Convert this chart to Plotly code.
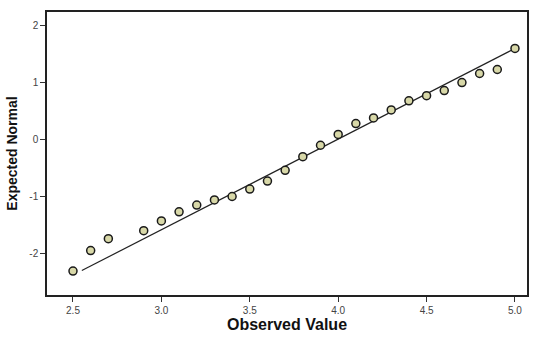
import plotly.graph_objects as go

observed = [2.5, 2.6, 2.7, 2.9, 3.0, 3.1, 3.2, 3.3, 3.4, 3.5, 3.6, 3.7, 3.8, 3.9,
            4.0, 4.1, 4.2, 4.3, 4.4, 4.5, 4.6, 4.7, 4.8, 4.9, 5.0]
expected = [-2.31, -1.95, -1.74, -1.60, -1.43, -1.27, -1.15, -1.06, -1.00, -0.87,
            -0.73, -0.54, -0.30, -0.10, 0.09, 0.28, 0.38, 0.52, 0.68, 0.77,
            0.86, 1.00, 1.16, 1.23, 1.60]
line_x = [2.55, 5.0]
line_y = [-2.30, 1.60]
x_ticks = [2.5, 3.0, 3.5, 4.0, 4.5, 5.0]
x_ticklabels = ["2.5", "3.0", "3.5", "4.0", "4.5", "5.0"]
y_ticks = [-2, -1, 0, 1, 2]
y_ticklabels = ["-2", "-1", "0", "1", "2"]

fig = go.Figure()
fig.add_trace(go.Scatter(x=line_x, y=line_y, mode="lines",
                         line=dict(color="#222222", width=1.2), showlegend=False))
fig.add_trace(go.Scatter(x=observed, y=expected, mode="markers",
                         marker=dict(size=8, color="#d8d8a8",
                                     line=dict(color="#1a1a1a", width=1.5)),
                         showlegend=False))

fig.update_layout(
    width=546, height=341,
    margin=dict(l=47, r=19, t=10, b=45),
    paper_bgcolor="white", plot_bgcolor="white",
    font=dict(family="Liberation Sans, Arial, sans-serif", color="#333333"),
    xaxis=dict(range=[2.353, 5.068], tickvals=x_ticks, ticktext=x_ticklabels,
               showgrid=False, zeroline=False, ticks="outside", ticklen=5,
               tickwidth=1, tickcolor="#333333",
               showline=True, linecolor="#222222", linewidth=1.5, mirror=True,
               tickfont=dict(size=10, color="#444444"),
               title=dict(text="<b>Observed Value</b>", standoff=4,
                          font=dict(size=16, color="#111111"))),
    yaxis=dict(range=[-2.73, 2.24], tickvals=y_ticks, ticktext=y_ticklabels,
               showgrid=False, zeroline=False, ticks="outside", ticklen=5,
               tickwidth=1, tickcolor="#333333",
               showline=True, linecolor="#222222", linewidth=1.5, mirror=True,
               tickfont=dict(size=10, color="#444444"),
               title=dict(text="<b>Expected Normal</b>", standoff=8,
                          font=dict(size=14, color="#111111"))),
)

fig.write_html("out.html")
